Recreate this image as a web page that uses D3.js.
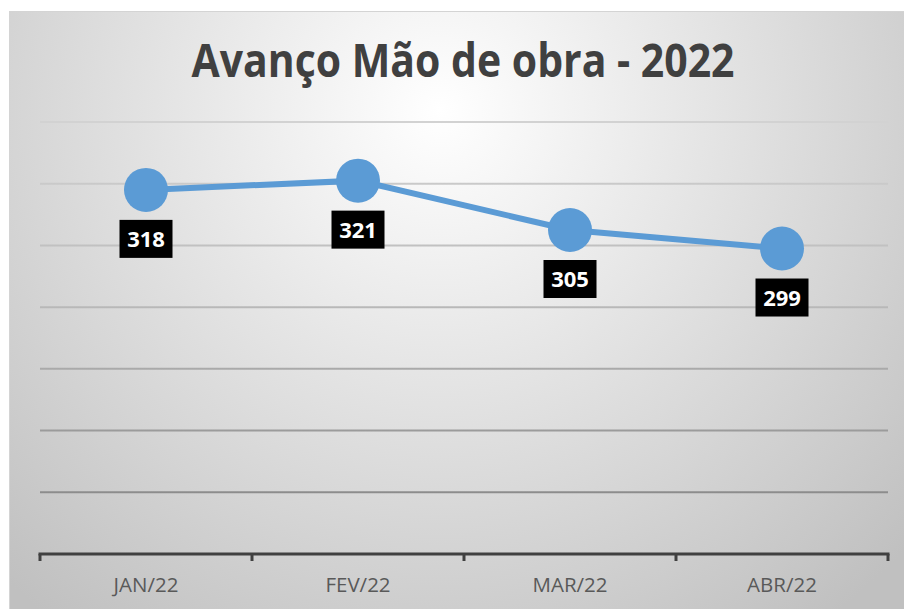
<!DOCTYPE html>
<html>
<head>
    <meta charset="utf-8">
    <title>Avanço Mão de obra - 2022</title>
    <script src="https://cdn.jsdelivr.net/npm/d3@7"></script>
    <style>
        body { margin: 0; background: #fff; }
    </style>
</head>
<body>
    <script>
        // dados
        var meses = ["JAN/22", "FEV/22", "MAR/22", "ABR/22"];
        var valores = [318, 321, 305, 299];
        var gradeValores = [220, 240, 260, 280, 300, 320, 340];
        var titulo = "Avanço Mão de obra - 2022";

        var width = 904;
        var height = 609;
        var margin = { top: 122, bottom: 55, left: 40, right: 16 };

        var svg = d3.select("body").append("svg")
            .attr("width", width)
            .attr("height", height);

        var defs = svg.append("defs");

        // fundo com gradiente radial
        var bg = defs.append("radialGradient")
            .attr("id", "bg")
            .attr("gradientUnits", "userSpaceOnUse")
            .attr("cx", 440).attr("cy", 110).attr("r", 640);
        bg.append("stop").attr("offset", "0").attr("stop-color", "#ffffff");
        bg.append("stop").attr("offset", "1").attr("stop-color", "#c0c0c0");

        // linhas de grade mais escuras em baixo
        var gg = defs.append("linearGradient")
            .attr("id", "grade")
            .attr("gradientUnits", "userSpaceOnUse")
            .attr("x1", 0).attr("y1", 122).attr("x2", 0).attr("y2", 494);
        gg.append("stop").attr("offset", "0").attr("stop-color", "#d2d2d2");
        gg.append("stop").attr("offset", "0.5").attr("stop-color", "#b8b8b8");
        gg.append("stop").attr("offset", "1").attr("stop-color", "#8c8c8c");

        svg.append("rect")
            .attr("x", 9.5).attr("y", 11.5)
            .attr("width", width).attr("height", height)
            .attr("fill", "url(#bg)")
            .attr("stroke", "#d4d4d4")
            .attr("stroke-width", 1);

        // escalas
        var xScale = d3.scaleBand()
            .domain(meses)
            .range([margin.left, width - margin.right]);
        var yScale = d3.scaleLinear()
            .domain([200, 340])
            .range([height - margin.bottom, margin.top]);

        // grade
        svg.append("g")
            .selectAll("line")
            .data(gradeValores)
            .enter()
            .append("line")
            .attr("x1", margin.left)
            .attr("x2", width - margin.right)
            .attr("y1", function (d) { return yScale(d); })
            .attr("y2", function (d) { return yScale(d); })
            .attr("stroke", "url(#grade)")
            .attr("stroke-width", 2);

        // eixo x
        var eixo = svg.append("g")
            .attr("transform", "translate(0," + yScale(200) + ")");
        eixo.append("line")
            .attr("x1", margin.left - 1.5)
            .attr("x2", width - margin.right + 1.5)
            .attr("stroke", "#404040")
            .attr("stroke-width", 3);
        var limites = meses.map(function (m) { return xScale(m); })
            .concat([xScale(meses[meses.length - 1]) + xScale.bandwidth()]);
        eixo.selectAll("line.tick")
            .data(limites)
            .enter()
            .append("line")
            .attr("class", "tick")
            .attr("x1", function (d) { return d; })
            .attr("x2", function (d) { return d; })
            .attr("y1", 0)
            .attr("y2", 7)
            .attr("stroke", "#404040")
            .attr("stroke-width", 3);
        eixo.selectAll("text")
            .data(meses)
            .enter()
            .append("text")
            .attr("x", function (d) { return xScale(d) + xScale.bandwidth() / 2; })
            .attr("y", 38)
            .attr("text-anchor", "middle")
            .attr("font-family", "Open Sans, sans-serif")
            .attr("font-size", "20.5px")
            .attr("fill", "#595959")
            .text(function (d) { return d; });

        // título
        svg.append("text")
            .attr("x", 463)
            .attr("y", 77)
            .attr("text-anchor", "middle")
            .attr("font-family", "Open Sans, sans-serif")
            .attr("font-weight", "bold")
            .attr("font-size", "47px")
            .attr("fill", "#404040")
            .attr("textLength", 543)
            .attr("lengthAdjust", "spacingAndGlyphs")
            .text(titulo);

        var pontos = meses.map(function (m, i) { return { mes: m, valor: valores[i] }; });
        var cx = function (d) { return xScale(d.mes) + xScale.bandwidth() / 2; };
        var cy = function (d) { return yScale(d.valor); };

        // linha
        svg.append("path")
            .datum(pontos)
            .attr("fill", "none")
            .attr("stroke", "#5b9bd5")
            .attr("stroke-width", 6)
            .attr("d", d3.line().x(cx).y(cy));

        // marcadores
        svg.append("g")
            .selectAll("circle")
            .data(pontos)
            .enter()
            .append("circle")
            .attr("cx", cx)
            .attr("cy", cy)
            .attr("r", 22)
            .attr("fill", "#5b9bd5");

        // rótulos
        var rot = svg.append("g")
            .selectAll("g")
            .data(pontos)
            .enter()
            .append("g")
            .attr("transform", function (d) { return "translate(" + cx(d) + "," + (cy(d) + 49) + ")"; });
        rot.append("rect")
            .attr("x", -26.5).attr("y", -19)
            .attr("width", 53).attr("height", 38)
            .attr("fill", "#000");
        rot.append("text")
            .attr("text-anchor", "middle")
            .attr("dy", "0.37em")
            .attr("font-family", "Open Sans, sans-serif")
            .attr("font-weight", "bold")
            .attr("font-size", "22px")
            .attr("fill", "#fff")
            .text(function (d) { return d.valor; });
    </script>
</body>
</html>
